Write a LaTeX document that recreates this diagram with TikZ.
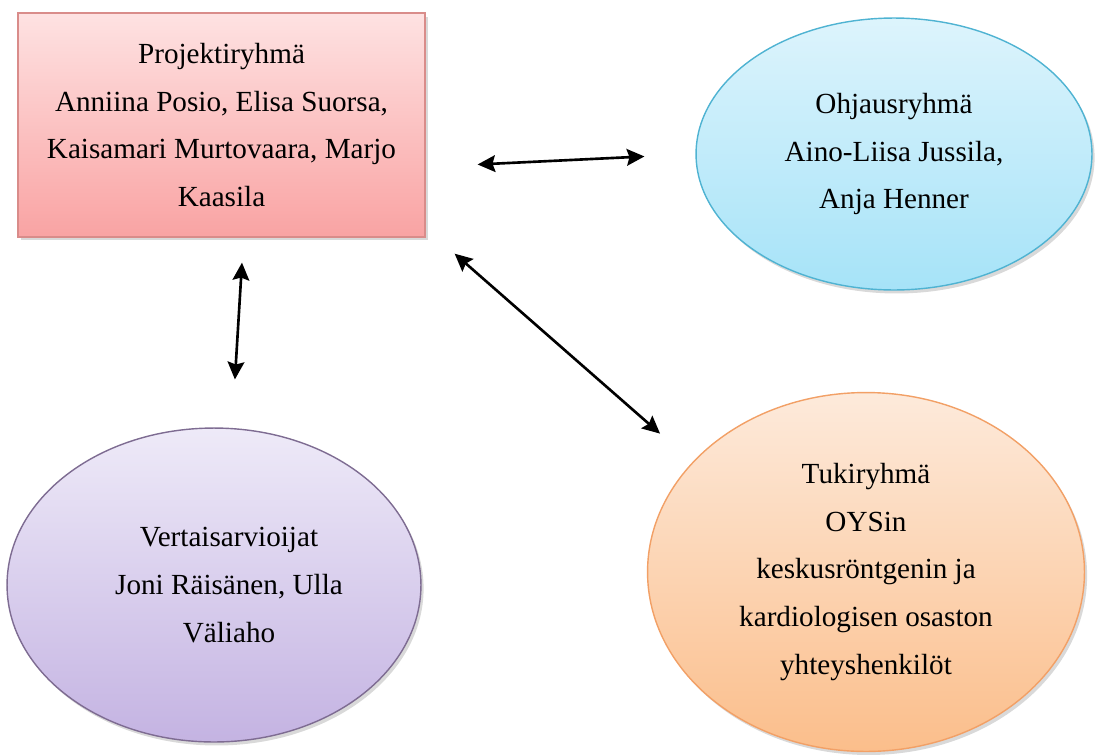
\documentclass[tikz,border=0pt]{standalone}
\usepackage{fontspec}
\setmainfont{LiberationSerif}[Extension=.ttf, UprightFont=*-Regular, BoldFont=*-Bold]
\usetikzlibrary{arrows.meta,shapes.geometric,shadows}
\definecolor{projtop}{HTML}{FEE2E2}
\definecolor{projbot}{HTML}{F9A3A3}
\definecolor{projline}{HTML}{D98C8A}
\definecolor{ohjtop}{HTML}{DDF4FC}
\definecolor{ohjbot}{HTML}{A6E3F8}
\definecolor{ohjline}{HTML}{4FB3D2}
\definecolor{vertop}{HTML}{EEEAF8}
\definecolor{verbot}{HTML}{C4B3E2}
\definecolor{verline}{HTML}{7E6C92}
\definecolor{tuktop}{HTML}{FDEADB}
\definecolor{tukbot}{HTML}{FBBE8B}
\definecolor{tukline}{HTML}{F2A066}
\begin{document}
\begin{tikzpicture}[x=0.02cm, y=-0.02cm,
  font=\fontsize{16.6}{27.2}\selectfont,
  group/.style={align=center, inner sep=0pt, line width=0.8pt,
    drop shadow={shadow xshift=1.5pt, shadow yshift=-2pt, opacity=0.3}},
  link/.style={{Stealth[length=10pt,width=9.5pt,inset=1.5pt]}-{Stealth[length=10pt,width=9.5pt,inset=1.5pt]}, line width=1.5pt}]
\useasboundingbox (0,0) rectangle (1097,754);
\node[group, draw=projline, top color=projtop, bottom color=projbot, minimum width=8.14cm, minimum height=4.48cm] (proj) at (221.5,125) {Projektiryhmä\\Anniina Posio, Elisa Suorsa,\\Kaisamari Murtovaara, Marjo\\Kaasila};
\node[group, ellipse, draw=ohjline, top color=ohjtop, bottom color=ohjbot, minimum width=7.92cm, minimum height=5.44cm] (ohj) at (894,154) {Ohjausryhmä\\Aino-Liisa Jussila,\\Anja Henner};
\node[group, ellipse, draw=verline, top color=vertop, bottom color=verbot, minimum width=8.28cm, minimum height=6.28cm] (vert) at (214,585) {\hspace*{0.6cm}Vertaisarvioijat\\\hspace*{0.6cm}Joni Räisänen, Ulla\\\hspace*{0.6cm}Väliaho};
\node[group, ellipse, draw=tukline, top color=tuktop, bottom color=tukbot, minimum width=8.74cm, minimum height=7.18cm] (tuk) at (866,572) {Tukiryhmä\\OYSin\\keskusröntgenin ja\\kardiologisen osaston\\yhteyshenkilöt};
\draw[link, shorten <=1.04cm, shorten >=1.02cm] ([yshift=-0.84cm]proj.east) -- (ohj.west);
\draw[link, shorten <=0.5cm, shorten >=0.96cm] ([xshift=0.44cm]proj.south) -- ([xshift=0.36cm]vert.north);
\draw[link] ([xshift=0.58cm, yshift=-0.32cm]proj.south east) -- ([xshift=-1.02cm, yshift=0.22cm]tuk.north west);
\end{tikzpicture}
\end{document}
